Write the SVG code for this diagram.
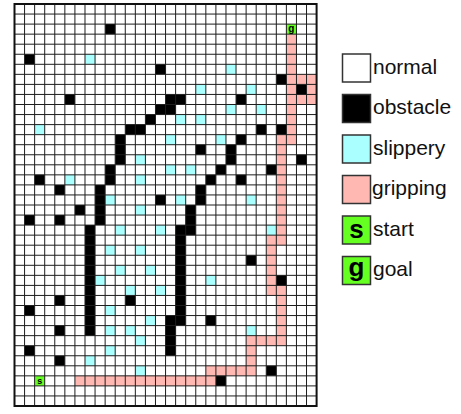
<svg xmlns="http://www.w3.org/2000/svg" width="461" height="414" viewBox="0 0 461 414">
<style>
.k{fill:#000}
.c{fill:#aaffff}
.p{fill:#ffb8b2}
.gr{fill:#66ff22}
.ln{fill:none;stroke:#1e1e1e;stroke-width:1}
.bd{fill:none;stroke:#111;stroke-width:2}
.lb{font-family:"Liberation Sans",Arial,sans-serif;font-size:21px;fill:#111}
.bx{stroke:#333;stroke-width:1.5}
.cl{font-family:"Liberation Sans",Arial,sans-serif;font-weight:bold;fill:#000;text-anchor:middle}
</style>
<rect width="461" height="414" fill="#fff"/>
<g id="grid" transform="translate(14.5,4) scale(10.07,10.05)">
<rect x="0" y="0" width="30" height="40" fill="#fff"/>
<path id="slippery-cells" class="c" d="M7 5h1v1h-1zM21 6h1v1h-1zM18 8h1v1h-1zM23 8h1v1h-1zM21 10h1v1h-1zM24 10h1v1h-1zM16 11h1v1h-1zM18 11h1v1h-1zM2 12h1v1h-1zM15 13h1v1h-1zM20 13h1v1h-1zM12 15h1v1h-1zM15 16h1v1h-1zM17 16h1v1h-1zM5 17h1v1h-1zM12 17h1v1h-1zM9 19h1v1h-1zM16 19h1v1h-1zM23 19h1v1h-1zM12 20h1v1h-1zM10 22h1v1h-1zM14 22h1v1h-1zM25 22h1v1h-1zM9 24h1v1h-1zM12 24h1v1h-1zM10 26h1v1h-1zM13 26h1v1h-1zM8 27h1v1h-1zM19 27h1v1h-1zM11 28h1v1h-1zM14 28h1v1h-1zM9 30h1v1h-1zM13 31h1v1h-1zM9 32h1v1h-1zM11 32h1v1h-1zM23 32h1v1h-1zM12 33h1v1h-1zM9 34h1v1h-1zM7 35h1v1h-1zM12 36h1v1h-1z"/>
<path id="gripping-cells" class="p" d="M27 3h1v11h-1zM28 7h2v1h-2zM29 8h1v1h-1zM28 9h2v1h-2zM26 13h1v11h-1zM25 23h1v6h-1zM26 28h1v6h-1zM23 33h3v1h-3zM23 34h1v3h-1zM19 36h4v1h-4zM6 37h14v1h-14z"/>
<path id="obstacle-cells" class="k" d="M9 2h1v1h-1zM1 5h1v1h-1zM14 6h1v1h-1zM26 7h1v1h-1zM28 8h1v1h-1zM5 9h1v1h-1zM15 9h2v1h-2zM22 9h1v1h-1zM14 10h2v1h-2zM13 11h1v1h-1zM11 12h2v1h-2zM24 12h1v1h-1zM26 12h1v1h-1zM10 13h1v3h-1zM22 13h1v1h-1zM18 14h1v1h-1zM21 14h1v2h-1zM28 15h1v1h-1zM9 16h1v2h-1zM20 16h1v1h-1zM25 16h1v1h-1zM2 17h1v1h-1zM19 17h1v1h-1zM22 17h1v1h-1zM4 18h1v1h-1zM8 18h1v4h-1zM18 18h1v2h-1zM14 19h1v1h-1zM6 20h1v1h-1zM17 20h1v3h-1zM1 21h1v1h-1zM4 21h1v1h-1zM7 22h1v11h-1zM16 22h1v10h-1zM23 25h1v1h-1zM26 27h1v1h-1zM4 29h1v1h-1zM11 29h1v1h-1zM1 30h1v1h-1zM15 31h1v4h-1zM19 31h1v1h-1zM4 32h1v1h-1zM1 34h1v1h-1zM4 35h1v1h-1zM25 36h1v1h-1zM20 37h1v1h-1z"/>
<rect id="start-cell" class="gr" x="2" y="37" width="1" height="1"/>
<rect id="goal-cell" class="gr" x="27" y="2" width="1" height="1"/>
<path class="ln" vector-effect="non-scaling-stroke" d="M1 0V40M2 0V40M3 0V40M4 0V40M5 0V40M6 0V40M7 0V40M8 0V40M9 0V40M10 0V40M11 0V40M12 0V40M13 0V40M14 0V40M15 0V40M16 0V40M17 0V40M18 0V40M19 0V40M20 0V40M21 0V40M22 0V40M23 0V40M24 0V40M25 0V40M26 0V40M27 0V40M28 0V40M29 0V40M0 1H30M0 2H30M0 3H30M0 4H30M0 5H30M0 6H30M0 7H30M0 8H30M0 9H30M0 10H30M0 11H30M0 12H30M0 13H30M0 14H30M0 15H30M0 16H30M0 17H30M0 18H30M0 19H30M0 20H30M0 21H30M0 22H30M0 23H30M0 24H30M0 25H30M0 26H30M0 27H30M0 28H30M0 29H30M0 30H30M0 31H30M0 32H30M0 33H30M0 34H30M0 35H30M0 36H30M0 37H30M0 38H30M0 39H30"/>
<rect class="bd" vector-effect="non-scaling-stroke" x="0" y="0" width="30" height="40"/>
</g>
<text class="cl" x="39.7" y="384" font-size="9">s</text>
<text class="cl" x="291.4" y="31.5" font-size="10">g</text>
<g id="legend-normal">
<rect class="bx" x="342.5" y="54" width="28" height="28" fill="#fff"/>
<text class="lb" x="373" y="73.5">normal</text>
</g>
<g id="legend-obstacle">
<rect class="bx" x="342.5" y="94.5" width="28" height="28" fill="#000"/>
<text class="lb" x="373" y="114">obstacle</text>
</g>
<g id="legend-slippery">
<rect class="bx" x="342.5" y="135" width="28" height="28" fill="#aaffff"/>
<text class="lb" x="373" y="154.5">slippery</text>
</g>
<g id="legend-gripping">
<rect class="bx" x="342.5" y="175.5" width="28" height="28" fill="#ffb8b2"/>
<text class="lb" x="372" y="195">gripping</text>
</g>
<g id="legend-start">
<rect class="bx" x="342.5" y="216" width="28" height="28" fill="#66ff22"/>
<text class="cl" x="356.5" y="238" font-size="26">s</text>
<text class="lb" x="373" y="235.5">start</text>
</g>
<g id="legend-goal">
<rect class="bx" x="342.5" y="256.5" width="28" height="28" fill="#66ff22"/>
<text class="cl" x="356.5" y="276" font-size="26">g</text>
<text class="lb" x="373" y="276">goal</text>
</g>
</svg>
